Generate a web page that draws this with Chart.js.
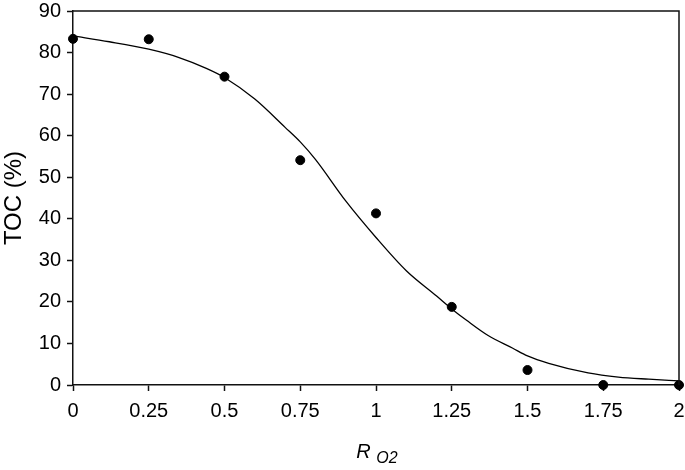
<!DOCTYPE html>
<html>
<head>
<meta charset="utf-8">
<script src="https://cdn.jsdelivr.net/npm/chart.js@4.4.1/dist/chart.umd.min.js"></script>
<style>
  html, body { margin: 0; padding: 0; background: #fff; }
  #wrap { position: relative; width: 685px; height: 470px; }
</style>
</head>
<body>
<div id="wrap"><canvas id="c" width="685" height="470"></canvas></div>
<script>
// Measured data points (R_O2, TOC %)
const pointX = [0, 0.25, 0.5, 0.75, 1.0, 1.25, 1.5, 1.75, 2.0];
const pointY = [83.3, 83.2, 74.2, 54.1, 41.3, 18.8, 3.6, 0.0, 0.0];

// Fitted curve
const curveX = [0, 0.12, 0.25, 0.35, 0.44, 0.5, 0.6, 0.7, 0.75, 0.8, 0.9, 1.0, 1.1, 1.2, 1.25, 1.3, 1.37, 1.45, 1.5, 1.57, 1.7, 1.8, 1.9, 2.0];
const curveY = [84.0, 82.6, 80.8, 78.8, 76.2, 74.0, 68.8, 62.0, 58.5, 54.3, 44.3, 35.5, 27.5, 21.4, 18.3, 15.5, 11.9, 8.9, 7.0, 5.2, 2.9, 1.9, 1.4, 1.0];

const xTickValues = [0, 0.25, 0.5, 0.75, 1, 1.25, 1.5, 1.75, 2];
const xTickLabels = ['0', '0.25', '0.5', '0.75', '1', '1.25', '1.5', '1.75', '2'];
const yTickLabels = ['0', '10', '20', '30', '40', '50', '60', '70', '80', '90'];

const yTitle = 'TOC (%)';
const xTitleMain = 'R';
const xTitleSub = 'O2';

const FONT = "'Liberation Sans', Arial, sans-serif";

const framePlugin = {
  id: 'frame',
  afterDatasetsDraw(chart) {
    const { ctx, chartArea: a } = chart;
    ctx.save();
    ctx.strokeStyle = '#111';
    ctx.lineWidth = 1.5;
    ctx.beginPath();
    ctx.moveTo(a.left, a.top);
    ctx.lineTo(a.right, a.top);
    ctx.lineTo(a.right, a.bottom);
    ctx.stroke();
    ctx.restore();
  },
  afterDraw(chart) {
    const { ctx, chartArea: a } = chart;
    ctx.save();
    ctx.fillStyle = '#000';
    ctx.textBaseline = 'alphabetic';
    ctx.font = "italic 20px " + FONT;
    const wR = ctx.measureText(xTitleMain + ' ').width;
    ctx.font = "italic 16px " + FONT;
    const wS = ctx.measureText(xTitleSub).width;
    const cx = (a.left + a.right) / 2;
    const x0 = cx - (wR + wS) / 2 + 1;
    ctx.font = "italic 20px " + FONT;
    ctx.fillText(xTitleMain + ' ', x0, 458);
    ctx.font = "italic 16px " + FONT;
    ctx.fillText(xTitleSub, x0 + wR, 463);
    ctx.restore();
  }
};

new Chart(document.getElementById('c'), {
  type: 'scatter',
  data: {
    datasets: [
      {
        label: 'Experimental',
        data: pointX.map((x, i) => ({ x: x, y: pointY[i] })),
        backgroundColor: '#000',
        borderColor: '#000',
        pointRadius: 4.5,
        pointHoverRadius: 4.5,
        showLine: false,
        clip: false,
        order: 1
      },
      {
        label: 'Model',
        data: curveX.map((x, i) => ({ x: x, y: curveY[i] })),
        borderColor: '#000',
        borderWidth: 1.3,
        pointRadius: 0,
        showLine: true,
        cubicInterpolationMode: 'monotone',
        fill: false,
        order: 2
      }
    ]
  },
  options: {
    responsive: false,
    animation: false,
    layout: { autoPadding: false, padding: { top: 11, right: 6, left: 0, bottom: 0 } },
    plugins: {
      legend: { display: false },
      tooltip: { enabled: false }
    },
    scales: {
      x: {
        type: 'linear',
        min: 0, max: 2,
        afterBuildTicks(scale) { scale.ticks = xTickValues.map(v => ({ value: v })); },
        afterFit(scale) { scale.height = 85; scale.paddingLeft = 0; scale.paddingRight = 0; },
        ticks: {
          color: '#000',
          font: { family: FONT, size: 20 },
          padding: 8,
          maxRotation: 0,
          autoSkip: false,
          callback: (v) => { const i = xTickValues.indexOf(v); return i >= 0 ? xTickLabels[i] : ''; }
        },
        grid: {
          drawOnChartArea: false,
          drawTicks: true,
          tickLength: 6,
          tickColor: '#111',
          tickWidth: 1.5
        },
        border: { display: true, color: '#111', width: 1.5 }
      },
      y: {
        min: 0, max: 90,
        afterBuildTicks(scale) { scale.ticks = yTickLabels.map(t => ({ value: Number(t) })); },
        afterFit(scale) { scale.width = 73; scale.paddingTop = 0; scale.paddingBottom = 0; },
        ticks: {
          color: '#000',
          font: { family: FONT, size: 20 },
          padding: 6,
          callback: (v) => { const i = yTickLabels.indexOf(String(v)); return i >= 0 ? yTickLabels[i] : ''; }
        },
        title: {
          display: true,
          text: yTitle,
          color: '#000',
          font: { family: FONT, size: 24 },
          padding: { top: 0, bottom: 1 }
        },
        grid: {
          drawOnChartArea: false,
          drawTicks: true,
          tickLength: 6,
          tickColor: '#111',
          tickWidth: 1.5
        },
        border: { display: true, color: '#111', width: 1.5 }
      }
    }
  },
  plugins: [framePlugin]
});
</script>
</body>
</html>
